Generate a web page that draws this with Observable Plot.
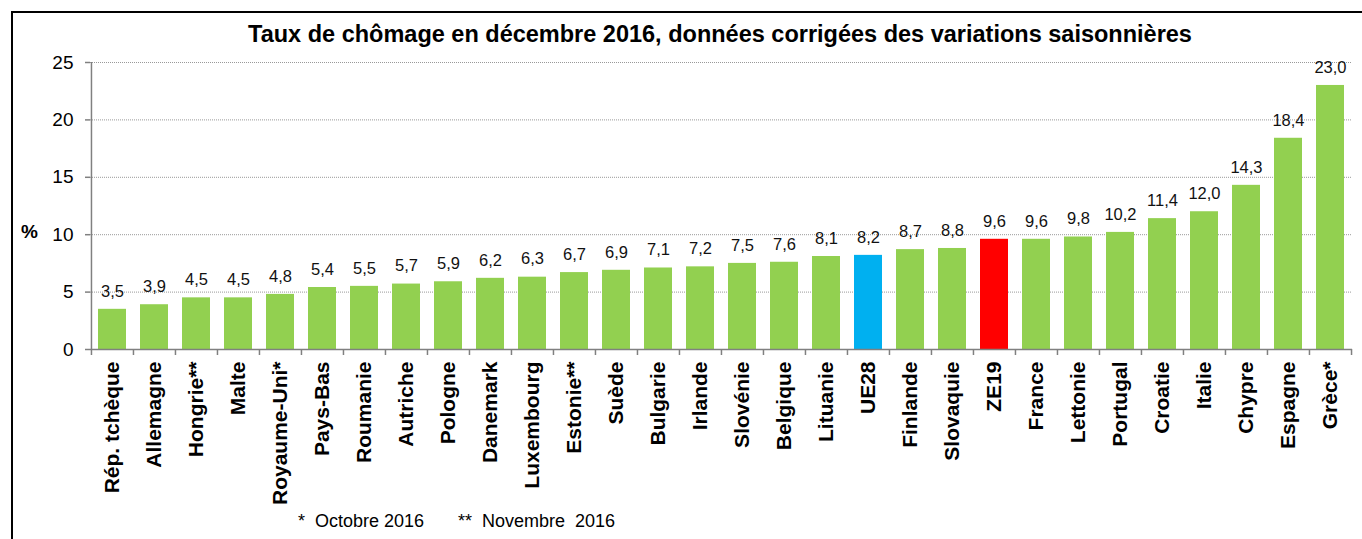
<!DOCTYPE html>
<html>
<head>
<meta charset="utf-8">
<script src="https://cdn.jsdelivr.net/npm/d3@7"></script>
<script src="https://cdn.jsdelivr.net/npm/@observablehq/plot@0.6"></script>
<style>
  html, body { margin: 0; padding: 0; background: #fff; }
  body { width: 1362px; height: 539px; position: relative; overflow: hidden; font-family: "Liberation Sans", Arial, sans-serif; }
  #frame { position: absolute; left: 11px; top: 11px; width: 1400px; height: 600px; border-left: 2px solid #000; border-top: 2px solid #000; }
  #title { position: absolute; left: 0; width: 1440px; top: 21px; text-align: center; font-weight: bold; font-size: 23.5px; color: #000; }
  #pct { position: absolute; left: 21px; top: 221px; font-weight: bold; font-size: 19px; color: #000; }
  #chart { position: absolute; left: 0; top: 50px; }
  .note { position: absolute; top: 511px; font-size: 18px; color: #000; white-space: pre; }
</style>
</head>
<body>
<div id="frame"></div>
<div id="title">Taux de chômage en décembre 2016, données corrigées des variations saisonnières</div>
<div id="pct">%</div>
<div id="chart"></div>
<div class="note" style="left:298px">*  Octobre 2016</div>
<div class="note" style="left:458px">**  Novembre  2016</div>
<script>
const categories = ["Rép. tchèque","Allemagne","Hongrie**","Malte","Royaume-Uni*","Pays-Bas","Roumanie","Autriche","Pologne","Danemark","Luxembourg","Estonie**","Suède","Bulgarie","Irlande","Slovénie","Belgique","Lituanie","UE28","Finlande","Slovaquie","ZE19","France","Lettonie","Portugal","Croatie","Italie","Chypre","Espagne","Grèce*"];
const values = [3.5,3.9,4.5,4.5,4.8,5.4,5.5,5.7,5.9,6.2,6.3,6.7,6.9,7.1,7.2,7.5,7.6,8.1,8.2,8.7,8.8,9.6,9.6,9.8,10.2,11.4,12.0,14.3,18.4,23.0];
const yTicks = [0,5,10,15,20,25];
const colorOf = c => c === "UE28" ? "#00B0F0" : c === "ZE19" ? "#FF0000" : "#92D050";

const data = categories.map((c, i) => ({cat: c, v: values[i]}));
const W = 1362, H = 455, ML = 90, MR = 10, MT = 12, MB = 156;
const half = (W - ML - MR) / categories.length / 2;
const gray = "#808080";
const font = "Liberation Sans, Arial, sans-serif";

const plot = Plot.plot({
  width: W, height: H,
  marginLeft: ML, marginRight: MR, marginTop: MT, marginBottom: MB,
  style: {fontFamily: font, background: "transparent", color: "#000"},
  x: {domain: categories, paddingInner: 0.33, paddingOuter: 0.165, label: null},
  y: {domain: [0, 25], label: null},
  marks: [
    Plot.gridY(yTicks.filter(t => t > 0), {stroke: "#999", strokeOpacity: 1, strokeDasharray: "1,1", strokeWidth: 1}),
    Plot.barY(data, {x: "cat", y: "v", fill: d => colorOf(d.cat)}),
    Plot.text(data, {x: "cat", y: "v", text: d => d.v.toFixed(1).replace(".", ","), dy: -18, fontSize: 16.5, fill: "#111"}),
    Plot.ruleY([0], {stroke: gray, strokeWidth: 1.5}),
    Plot.ruleX([categories[0]], {y1: 0, y2: 25, dx: -half, stroke: gray, strokeWidth: 1.5}),
    Plot.ruleX(categories, {y1: 0, y2: 0, insetBottom: -6, dx: -half, stroke: gray, strokeWidth: 1.5}),
    Plot.ruleX([categories[categories.length - 1]], {y1: 0, y2: 0, insetBottom: -6, dx: half, stroke: gray, strokeWidth: 1.5}),
    Plot.axisY({ticks: yTicks, tickSize: 5, tickPadding: 12, fontSize: 19, stroke: gray, strokeWidth: 1.5, label: null, tickFormat: d => String(d)}),
    Plot.axisX({tickSize: 0, tickPadding: 12, tickRotate: -90, fontSize: 21, fontWeight: "bold", label: null})
  ]
});
document.getElementById("chart").appendChild(plot);
</script>
</body>
</html>
